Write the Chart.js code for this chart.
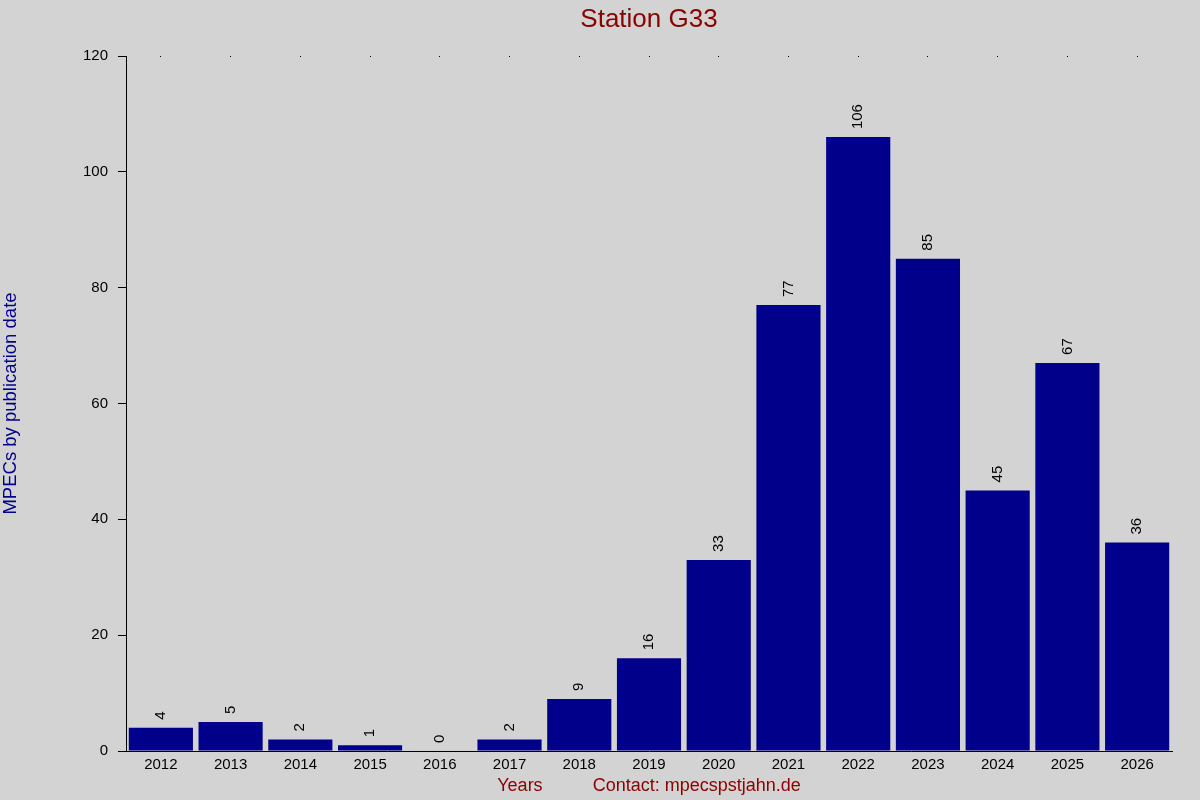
<!DOCTYPE html>
<html>
<head>
<meta charset="utf-8">
<title>Station G33</title>
<script src="https://cdn.jsdelivr.net/npm/chart.js@4.4.1/dist/chart.umd.min.js"></script>
<style>
    html, body { margin: 0; padding: 0; background: #d3d3d3; }
    #wrap { width: 1200px; height: 800px; }
</style>
</head>
<body>
<div id="wrap"><canvas id="stationChart"></canvas></div>
<script>
// Werte
const years = ['2012', '2013', '2014', '2015', '2016', '2017', '2018', '2019',
               '2020', '2021', '2022', '2023', '2024', '2025', '2026'];
const mpecCounts = [4, 5, 2, 1, 0, 2, 9, 16, 33, 77, 106, 85, 45, 67, 36];
const yTicks = [0, 20, 40, 60, 80, 100, 120];

const chartTitle = 'Station G33';
const yTitle = 'MPECs by publication date';
const xTitle = 'Years          Contact: mpecspstjahn.de';

Chart.defaults.font.family = "'Liberation Sans', Arial, Helvetica, sans-serif";
Chart.defaults.color = '#000';

// Zahlen senkrecht über die Balken schreiben
const barValues = {
    id: 'barValues',
    afterDatasetsDraw(chart) {
        const ctx = chart.ctx;
        const meta = chart.getDatasetMeta(0);
        ctx.save();
        ctx.fillStyle = '#000';
        ctx.font = "15px 'Liberation Sans', Arial, sans-serif";
        ctx.textAlign = 'left';
        ctx.textBaseline = 'middle';
        meta.data.forEach(function (bar, i) {
            ctx.save();
            ctx.translate(bar.x, bar.y - 8);
            ctx.rotate(-Math.PI / 2);
            ctx.fillText(String(mpecCounts[i]), 0, 0);
            ctx.restore();
        });
        ctx.restore();
    }
};

const canvas = document.getElementById('stationChart');
canvas.style.background = '#d3d3d3';

new Chart(canvas.getContext('2d'), {
    type: 'bar',
    data: {
        labels: years,
        datasets: [{
            data: mpecCounts,
            backgroundColor: '#00008b',
            borderWidth: 0,
            categoryPercentage: 1.0,
            barPercentage: 0.92
        }]
    },
    options: {
        responsive: true,
        maintainAspectRatio: false,
        animation: false,
        layout: { padding: { left: 0, right: 28, top: 0, bottom: 0 } },
        plugins: {
            legend: { display: false },
            tooltip: { enabled: false },
            title: {
                display: true,
                fullSize: false,
                text: chartTitle,
                color: '#8b0000',
                font: { size: 26, weight: 'normal' },
                padding: { top: 4, bottom: 20.8 }
            }
        },
        scales: {
            x: {
                afterFit: function (scale) { scale.height = 49; },
                grid: {
                    offset: false,
                    drawTicks: false,
                    color: '#000',
                    lineWidth: 1
                },
                border: { color: '#000', width: 1, dash: [1, 2000] },
                ticks: { color: '#000', font: { size: 15 }, padding: 5, maxRotation: 0 },
                title: {
                    display: true,
                    text: xTitle,
                    color: '#8b0000',
                    font: { size: 18 },
                    padding: { top: 0, bottom: 3 }
                }
            },
            y: {
                min: 0,
                max: 120,
                afterFit: function (scale) { scale.width = 126; },
                afterBuildTicks: function (scale) {
                    scale.ticks = yTicks.map(v => ({ value: v }));
                },
                grid: {
                    drawOnChartArea: false,
                    drawTicks: true,
                    tickLength: 8,
                    tickColor: '#000',
                    color: '#000'
                },
                border: { color: '#000', width: 1 },
                ticks: { color: '#000', font: { size: 15 }, padding: 10 },
                title: {
                    display: true,
                    text: yTitle,
                    color: '#00008b',
                    font: { size: 18.5 },
                    padding: 0
                }
            }
        }
    },
    plugins: [barValues]
});
</script>
</body>
</html>
